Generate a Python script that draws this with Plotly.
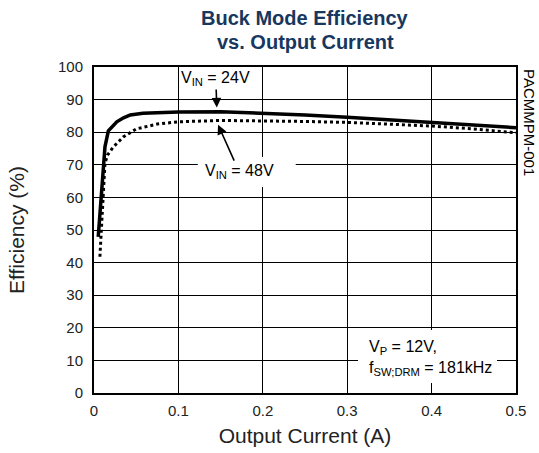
import plotly.graph_objects as go

# Data
current_24v = [0.005, 0.009, 0.013, 0.017, 0.022, 0.027, 0.035, 0.043, 0.058, 0.08, 0.1, 0.15, 0.2, 0.25, 0.3, 0.35, 0.4, 0.45, 0.5]
eff_24v = [47.9, 61.3, 75.5, 80.4, 82.0, 83.2, 84.4, 85.3, 85.8, 86.1, 86.2, 86.3, 85.9, 85.3, 84.6, 83.8, 82.9, 82.2, 81.4]

current_48v = [0.007, 0.009, 0.011, 0.013, 0.016, 0.023, 0.035, 0.05, 0.075, 0.1, 0.15, 0.2, 0.25, 0.3, 0.35, 0.4, 0.45, 0.5]
eff_48v = [41.8, 53.0, 62.3, 70.5, 73.0, 75.5, 78.6, 81.0, 82.5, 83.2, 83.6, 83.5, 83.3, 83.0, 82.5, 81.9, 81.0, 79.8]

x_ticks = [0, 0.1, 0.2, 0.3, 0.4, 0.5]
x_tick_labels = ["0", "0.1", "0.2", "0.3", "0.4", "0.5"]
y_ticks = [0, 10, 20, 30, 40, 50, 60, 70, 80, 90, 100]

title_lines = ["Buck Mode Efficiency", "vs. Output Current"]

FONT = "Arial, Liberation Sans, sans-serif"

fig = go.Figure()
fig.add_trace(go.Scatter(x=current_24v, y=eff_24v, mode="lines",
                         line=dict(color="black", width=3.5), name="VIN = 24V",
                         showlegend=False))
fig.add_trace(go.Scatter(x=current_48v, y=eff_48v, mode="lines",
                         line=dict(color="black", width=3, dash="dot"), name="VIN = 48V",
                         showlegend=False))

# white boxes behind annotations (cover gridlines)
fig.add_shape(type="rect", x0=0.123, x1=0.239, y0=63.2, y1=72.4,
              fillcolor="white", line=dict(width=0), layer="above")
fig.add_shape(type="rect", x0=0.3128, x1=0.4775, y0=3.1, y1=19.3,
              fillcolor="white", line=dict(width=0), layer="above")

ann_font = dict(family=FONT, size=16, color="black")

# V_IN = 24V label with arrow to the solid curve
fig.add_annotation(x=0.1455, y=87.6, ax=-1, ay=-29, text="V<sub>IN</sub> = 24V",
                   showarrow=True, arrowhead=2, arrowsize=1.2, arrowwidth=1.6,
                   arrowcolor="black", font=ann_font)

# V_IN = 48V label with arrow to the dotted curve
fig.add_annotation(x=0.147, y=82.3, ax=21, ay=47, text="V<sub>IN</sub> = 48V",
                   showarrow=True, arrowhead=2, arrowsize=1.2, arrowwidth=1.6,
                   arrowcolor="black", font=ann_font)

fig.add_annotation(x=0.3235, y=10.6, text="V<sub>P</sub> = 12V,<br>f<sub>SW;DRM</sub> = 181kHz",
                   showarrow=False, font=ann_font, xanchor="left", yanchor="middle", align="left")

fig.add_annotation(xref="paper", yref="paper", x=1.0, y=1.0, xshift=3,
                   text="PACMMPM-001", showarrow=False, textangle=90,
                   font=dict(family=FONT, size=15, color="black"),
                   xanchor="left", yanchor="top")

# Title lines as paper annotations
for line, shift in zip(title_lines, [49, 25]):
    fig.add_annotation(xref="paper", yref="paper", x=0.5, y=1.0, yshift=shift,
                       text="<b>" + line + "</b>",
                       showarrow=False, xanchor="center", yanchor="middle",
                       font=dict(family=FONT, size=20, color="#17375E"))

axis_common = dict(showgrid=True, gridcolor="black", gridwidth=1.2,
                   showline=True, linecolor="black", linewidth=2, mirror=True,
                   ticks="", zeroline=False, automargin=False,
                   tickfont=dict(family=FONT, size=15, color="#222"))

fig.update_layout(
    width=539, height=453,
    margin=dict(l=94, r=23, t=67, b=60),
    paper_bgcolor="white", plot_bgcolor="white",
    xaxis=dict(range=[0, 0.5], tickvals=x_ticks, ticktext=x_tick_labels,
               ticklabelstandoff=3,
               title=dict(text="Output Current (A)", standoff=10,
                          font=dict(family=FONT, size=21, color="#222")),
               **axis_common),
    yaxis=dict(range=[0, 100], tickvals=y_ticks, ticklabelstandoff=6,
               title=dict(text="Efficiency (%)", standoff=28,
                          font=dict(family=FONT, size=21, color="#222")),
               **axis_common),
)

fig.write_html("out.html", config={"displayModeBar": False},
               post_script="document.body.style.margin='0';")
